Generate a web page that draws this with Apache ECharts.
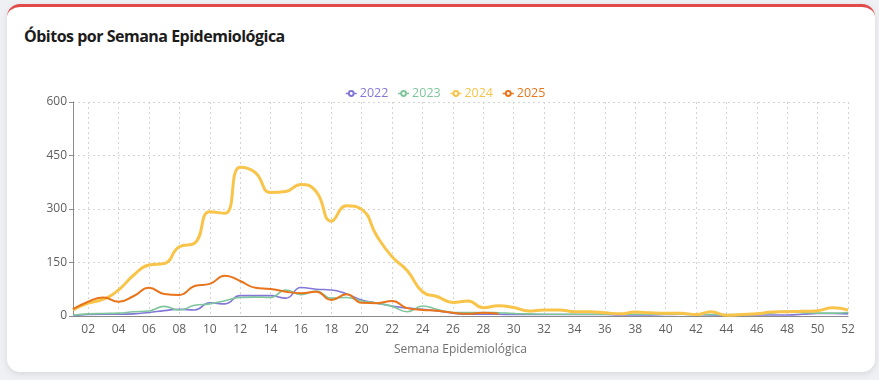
<!DOCTYPE html>
<html>
<head>
<meta charset="utf-8">
<script src="https://cdn.jsdelivr.net/npm/echarts@6/dist/echarts.min.js"></script>
<style>
  html, body { margin: 0; padding: 0; width: 879px; height: 380px; background: #eef0f3; overflow: hidden; }
  .card { position: absolute; left: 7px; top: 4px; width: 868px; height: 368px; background: #fff;
          border-radius: 13px; border-top: 3px solid #e04a4a; box-sizing: border-box;
          box-shadow: 0 2px 6px rgba(0,0,0,0.10); }
  .title { position: absolute; left: 24px; top: 25px; font-family: "Open Sans", sans-serif; font-weight: 700;
           font-size: 16px; color: #1c1c1c; letter-spacing: -0.5px; }
  #chart { position: absolute; left: 0; top: 0; width: 879px; height: 380px; }
</style>
</head>
<body>
<div class="card"></div>
<div class="title">Óbitos por Semana Epidemiológica</div>
<div id="chart"></div>
<script>
const weeks = ['01','02','03','04','05','06','07','08','09','10','11','12','13','14','15','16','17','18','19','20','21','22','23','24','25','26','27','28','29','30','31','32','33','34','35','36','37','38','39','40','41','42','43','44','45','46','47','48','49','50','51','52'];
const years = ['2022','2023','2024','2025'];
const yearColors = ['#8378d8','#7fc69c','#f8c44a','#e8741c'];
const yTicks = [0,150,300,450,600];

const data2022 = [1,4,5,5,6,10,15,19,17,37,34,57,57,57,50,80,75,73,62,45,36,28,22,19,14,8,5,5,5,4,4,4,4,4,4,4,3,3,3,4,5,4,3,3,3,3,3,3,5,7,7,6];
const data2023 = [2,6,7,8,12,14,27,17,30,34,43,52,53,52,73,60,70,50,52,42,36,27,12,28,18,10,10,10,9,7,6,5,5,5,5,5,5,5,5,5,5,4,4,4,4,5,8,13,9,8,8,10];
const data2024 = [17,36,47,73,115,143,147,194,204,292,288,417,402,346,349,369,349,266,309,299,224,166,127,68,54,38,42,23,29,24,14,17,17,12,12,9,6,11,9,8,8,4,12,2,4,6,11,12,13,15,23,17];
const data2025 = [19,40,52,40,56,79,62,59,84,90,113,98,79,76,68,64,68,45,61,37,36,42,22,17,15,9,6,9,6];

const seriesData = [data2022, data2023, data2024, data2025];
const lineWidths = [1.6, 1.6, 3, 2];

const chart = echarts.init(document.getElementById('chart'));
const everyOther = function (idx) { return idx % 2 === 1; };
chart.setOption({
  animation: false,
  textStyle: { fontFamily: 'Open Sans, sans-serif' },
  color: yearColors,
  legend: {
    left: 340, top: 82, itemWidth: 11, itemHeight: 6, itemGap: 9,
    itemStyle: { borderWidth: 1.2 },
    lineStyle: { width: 1.5 },
    data: years.map((y, i) => ({ name: y, textStyle: { color: yearColors[i] } })),
    textStyle: { fontSize: 12.5, padding: [0, 0, 0, -2] }
  },
  grid: { left: 73, right: 31, top: 102, bottom: 64, containLabel: false },
  xAxis: {
    type: 'category', data: weeks, boundaryGap: false,
    name: 'Semana Epidemiológica', nameLocation: 'middle', nameGap: 28,
    nameTextStyle: { color: '#707070', fontSize: 12 },
    axisLine: { lineStyle: { color: '#8a8a8a' } },
    axisTick: { show: false },
    axisLabel: { interval: everyOther, color: '#606060', fontSize: 12, margin: 8 },
    splitLine: { show: true, interval: everyOther, lineStyle: { type: [2, 3], color: '#d4d4d4' } }
  },
  yAxis: {
    type: 'value', min: yTicks[0], max: yTicks[yTicks.length - 1], interval: 150,
    axisLine: { show: true, lineStyle: { color: '#8a8a8a' } },
    axisTick: { show: true, length: 4 },
    axisLabel: { color: '#606060', fontSize: 12, margin: 6 },
    splitLine: { lineStyle: { type: [2, 3], color: '#d4d4d4' } }
  },
  series: years.map((y, i) => ({
    name: y, type: 'line', smooth: true, showSymbol: false, symbol: 'emptyCircle',
    data: seriesData[i], lineStyle: { width: lineWidths[i] }, z: 2 + i
  }))
});
</script>
</body>
</html>
